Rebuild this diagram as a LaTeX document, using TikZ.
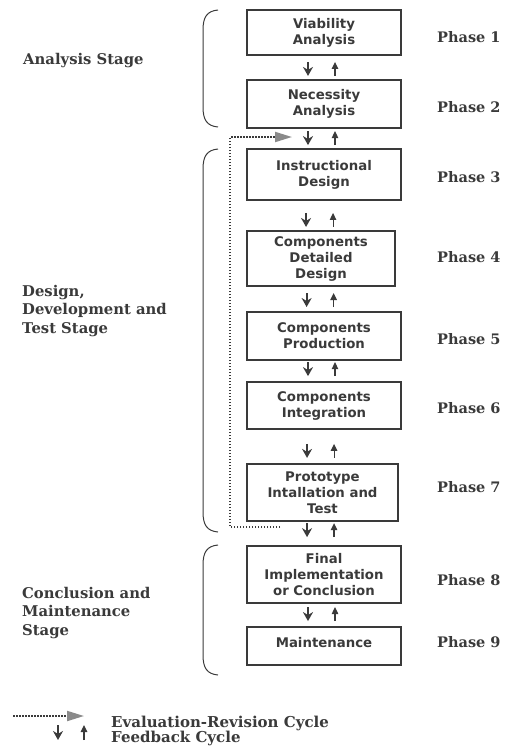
\documentclass[tikz,border=0pt]{standalone}
\usepackage{fontspec}
\setmainfont{DejaVu Serif}
\newfontfamily\boxfont{DejaVu Sans}
\usetikzlibrary{arrows.meta,calc}
\definecolor{ink}{HTML}{3A3A3A}
\definecolor{evgray}{HTML}{8A8A8A}
\tikzset{
  phasebox/.style={draw=ink, line width=1.1pt, minimum width=154pt, inner sep=0pt,
    align=center, text=ink, font=\boxfont\bfseries\fontsize{13.3}{16}\selectfont},
  phaselabel/.style={anchor=west, inner sep=0pt, text=ink, font=\bfseries\fontsize{14.5}{16}\selectfont},
  stagelabel/.style={anchor=north west, inner sep=0pt, align=left, text=ink,
    font=\bfseries\fontsize{14.8}{18.5}\selectfont},
  fdown/.style={draw=ink, line width=1.8pt, -{Stealth[length=9pt,width=10pt]}},
  fup/.style={draw=ink, line width=1.1pt, -{Triangle[length=7pt,width=6.5pt]}},
  evline/.style={draw=ink, line width=2pt, dash pattern=on 1.5pt off 1.5pt,
    -{Triangle[length=17pt,width=10pt,fill=evgray,color=evgray]}},
  stagebrace/.style={draw=ink, line width=1pt},
}
\newcommand{\fbpair}[3]{%
  \path (#1.south) -- (#2.north) coordinate[pos=#3] (m#1#2);
  \draw[fdown] ([shift={(-16,-7)}]m#1#2) -- ([shift={(-16,7)}]m#1#2);
  \draw[fup] ([shift={(11,7)}]m#1#2) -- ([shift={(11,-7)}]m#1#2);
}
\begin{document}
\begin{tikzpicture}[x=1pt,y=-1pt]
\useasboundingbox (0,0) rectangle (505,750);

% boxes
\node[phasebox, minimum height=45pt] (b1) at (324,32.5) {Viability\\Analysis};
\node[phasebox, minimum height=48pt] (b2) at (324,104) {Necessity\\Analysis};
\node[phasebox, minimum height=51pt] (b3) at (324,174.5) {Instructional\\Design};
\node[phasebox, minimum height=55pt, minimum width=148pt] (b4) at (321,258.5) {Components\\Detailed\\Design};
\node[phasebox, minimum height=48pt] (b5) at (324,336) {Components\\Production};
\node[phasebox, minimum height=47pt] (b6) at (324,405.5) {Components\\Integration};
\node[phasebox, minimum height=57pt, minimum width=151pt] (b7) at (322.5,492.5) {Prototype\\Intallation and\\Test};
\node[phasebox, minimum height=57pt] (b8) at (324,574.5) {Final\\Implementation\\or Conclusion};
\node[phasebox, minimum height=38pt, text depth=8pt] (b9) at (324,646) {Maintenance};

% feedback arrows
\fbpair{b1}{b2}{0.56}
\fbpair{b2}{b3}{0.48}
\fbpair{b3}{b4}{0.65}
\fbpair{b4}{b5}{0.54}
\fbpair{b5}{b6}{0.41}
\fbpair{b6}{b7}{0.63}
\fbpair{b7}{b8}{0.36}
\fbpair{b8}{b9}{0.46}

% phase labels
\node[phaselabel] (p1) at (437,37) {Phase 1};
\node[phaselabel] (p2) at (437,107) {Phase 2};
\node[phaselabel] (p3) at (437,177) {Phase 3};
\node[phaselabel] (p4) at (437,257) {Phase 4};
\node[phaselabel] (p5) at (437,339) {Phase 5};
\node[phaselabel] (p6) at (437,408) {Phase 6};
\node[phaselabel] (p7) at (437,487) {Phase 7};
\node[phaselabel] (p8) at (437,580) {Phase 8};
\node[phaselabel] (p9) at (437,642) {Phase 9};

% stage labels
\node[stagelabel] (s1) at (23,53) {Analysis Stage};
\node[stagelabel] (s2) at (22,285) {Design,\\Development and\\Test Stage};
\node[stagelabel] (s3) at (22,587) {Conclusion and\\Maintenance\\Stage};

% braces
\draw[stagebrace] (218,10) .. controls (207,11) and (203,17) .. (203,30) -- (203,107) .. controls (203,120) and (207,126) .. (218,127);
\draw[stagebrace] (218,149) .. controls (207,150) and (203,156) .. (203,169) -- (203,512) .. controls (203,525) and (207,531) .. (218,532);
\draw[stagebrace] (218,545) .. controls (207,546) and (203,552) .. (203,565) -- (203,655) .. controls (203,668) and (207,674) .. (218,675);

% evaluation-revision cycle
\coordinate (evs) at (280,527);
\coordinate (eve) at (292,137);
\draw[evline] (evs) -- (230,527) -- (230,137) -- (eve);

% legend
\coordinate (l1) at (13,716);
\coordinate (l2) at (84,716);
\draw[evline] (l1) -- (l2);
\coordinate (ld1) at (58,725);
\coordinate (ld2) at (58,740);
\coordinate (lu1) at (84,740);
\coordinate (lu2) at (84,725);
\draw[fdown] (ld1) -- (ld2);
\draw[fup] (lu1) -- (lu2);
\node[stagelabel, font=\bfseries\fontsize{15}{15}\selectfont] (leg) at (111,716) {Evaluation-Revision Cycle\\Feedback Cycle};
\end{tikzpicture}
\end{document}
